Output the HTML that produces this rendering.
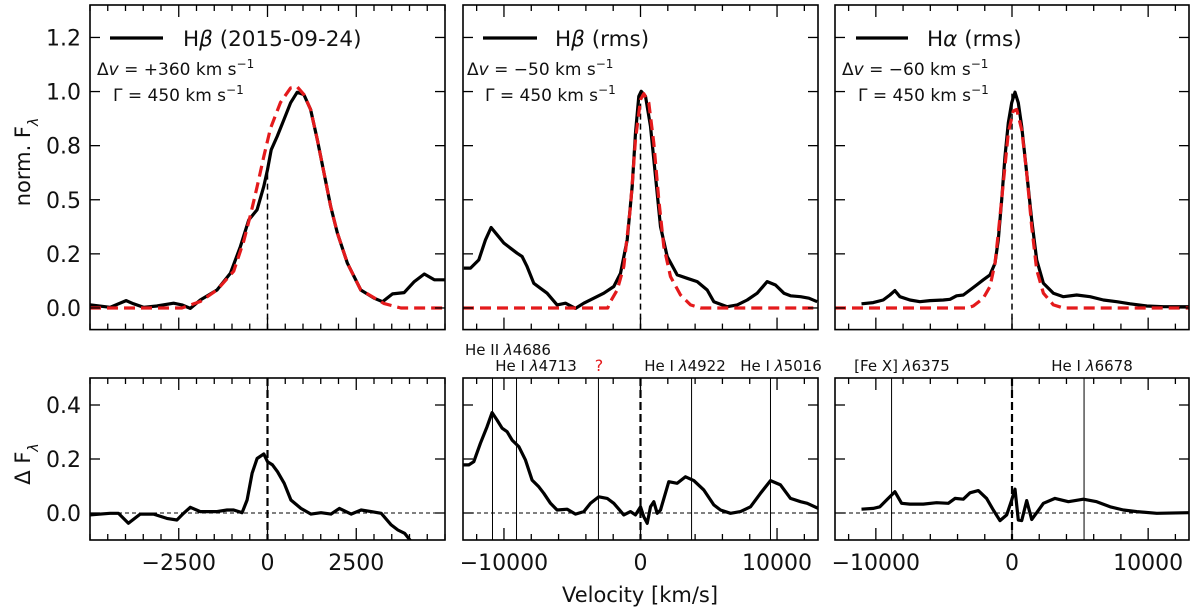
<!DOCTYPE html>
<html><head><meta charset="utf-8"><style>
html,body{margin:0;padding:0;background:#fff;}
svg{display:block;font-family:"DejaVu Sans","Liberation Sans",sans-serif;}
</style></head><body>
<svg id="fig" width="1200" height="613" viewBox="0 0 1200 613" xmlns="http://www.w3.org/2000/svg"></svg>
<script>
// ---------- data ----------
const hbDateV=[-5000,-4435,-3983,-3776,-3493,-3117,-2646,-2411,-2175,-1893,-1422,-1045,-763,-527,-292,-104,0,104,273,461,650,838,1026,1215,1403,1592,1780,1968,2251,2627,3004,3239,3522,3851,4134,4417,4699,5028];
const hbDateF=[0.014,0.003,0.034,0.019,0.003,0.009,0.022,0.014,-0.002,0.037,0.083,0.16,0.284,0.407,0.454,0.562,0.639,0.731,0.793,0.870,0.948,0.997,0.986,0.917,0.778,0.624,0.469,0.346,0.207,0.083,0.045,0.029,0.065,0.071,0.122,0.157,0.130,0.130];
const hbDateFitV=[-5000,-2411,-1893,-1422,-951,-669,-480,-292,-104,85,367,650,838,1026,1215,1403,1592,1780,1968,2251,2627,3286,3757,5000];
const hbDateFitF=[0,0,0.03,0.083,0.17,0.31,0.43,0.56,0.70,0.83,0.95,1.017,1.022,0.986,0.917,0.778,0.624,0.469,0.346,0.207,0.083,0.02,0,0];
const hbRmsV=[-12943,-12454,-11844,-11355,-10940,-10501,-10012,-9524,-9035,-8669,-8303,-7814,-7326,-6837,-6105,-5495,-4762,-4151,-3419,-2686,-1954,-1465,-977,-611,-366,-122,49,366,733,1099,1465,1954,2686,3419,4151,4884,5372,6349,7082,7814,8547,9280,9890,10501,10989,11722,12332,12943];
const hbRmsF=[0.184,0.184,0.222,0.315,0.372,0.338,0.3,0.276,0.253,0.238,0.191,0.114,0.091,0.068,0.014,0.022,-0.002,0.022,0.045,0.068,0.099,0.16,0.315,0.562,0.809,0.978,1.001,0.978,0.839,0.608,0.376,0.238,0.153,0.137,0.122,0.083,0.029,0.006,0.014,0.037,0.068,0.122,0.106,0.068,0.056,0.052,0.045,0.029];
const hbRmsFitV=[-13000,-2400,-2198,-1710,-1221,-733,-366,0,244,611,977,1343,1710,2198,2930,3663,4396,13000];
const hbRmsFitF=[0,0,0.03,0.083,0.191,0.469,0.778,0.963,0.99,0.948,0.762,0.5,0.284,0.145,0.06,0.014,0,0];
const haRmsV=[-11050,-10192,-9457,-8967,-8600,-8232,-7497,-6762,-6027,-5047,-4557,-4067,-3577,-3087,-2597,-2107,-1617,-1250,-1005,-760,-515,-270,-25,221,466,711,1078,1446,1813,2303,3038,3773,4753,5733,6713,7693,8673,9898,11123,12960];
const haRmsF=[0.019,0.025,0.037,0.06,0.080,0.052,0.037,0.029,0.034,0.037,0.040,0.056,0.06,0.083,0.106,0.13,0.153,0.207,0.315,0.5,0.701,0.855,0.948,0.997,0.948,0.839,0.624,0.407,0.222,0.114,0.068,0.052,0.06,0.052,0.037,0.029,0.019,0.009,0.006,0.006];
const haRmsFitV=[-13000,-3300,-2842,-2107,-1617,-1250,-1005,-637,-270,98,343,711,1078,1446,1813,2303,3038,3773,13000];
const haRmsFitF=[0,0,0.009,0.045,0.099,0.207,0.346,0.577,0.81,0.91,0.917,0.824,0.624,0.376,0.176,0.068,0.014,0,0];
const dHbDateV=[-5000,-4435,-4199,-3917,-3587,-3211,-2834,-2552,-2363,-2175,-1893,-1422,-1139,-951,-716,-575,-433,-292,-104,0,141,283,471,659,942,1224,1507,1789,2024,2354,2637,2919,3202,3484,3673,3861,4049];
const dHbDateF=[-0.007,-0.001,-0.001,-0.038,-0.004,-0.004,-0.02,-0.026,-0.001,0.021,0.005,0.005,0.011,0.011,0.001,0.048,0.147,0.202,0.219,0.19,0.178,0.153,0.110,0.048,0.017,-0.004,0.001,-0.004,0.017,-0.004,0.011,0.005,-0.001,-0.044,-0.063,-0.075,-0.106];
const dHbRmsV=[-12991,-12576,-12210,-11722,-11233,-10867,-10501,-10134,-9768,-9402,-8913,-8425,-7936,-7448,-7082,-6593,-6105,-5372,-4762,-4151,-3663,-3053,-2442,-1954,-1221,-733,-366,0,244,488,733,977,1221,1465,2075,2686,3297,3907,4640,5372,5861,6593,7326,8059,8791,9524,10257,10989,11722,12210,13017];
const dHbRmsF=[0.178,0.178,0.190,0.258,0.320,0.372,0.344,0.314,0.301,0.270,0.246,0.196,0.122,0.097,0.073,0.036,0.011,0.014,-0.004,0.005,0.036,0.060,0.054,0.036,-0.007,0.005,-0.007,0.023,-0.014,-0.038,0.023,0.042,-0.001,0.011,0.116,0.11,0.134,0.12,0.085,0.03,0.011,-0.001,0.005,0.023,0.073,0.120,0.104,0.054,0.042,0.036,0.017];
const dHaRmsV=[-11050,-10192,-9702,-9212,-8600,-8110,-7497,-6517,-5537,-4679,-4190,-3577,-3087,-2475,-1862,-1372,-882,-392,-25,221,466,711,1078,1446,1813,2303,3161,4140,5243,6223,7203,8183,9163,10633,12960];
const dHaRmsF=[0.014,0.017,0.023,0.048,0.079,0.036,0.033,0.033,0.038,0.036,0.054,0.051,0.075,0.083,0.054,0.011,-0.028,-0.007,0.048,0.088,-0.026,-0.028,0.046,-0.024,0.001,0.036,0.054,0.042,0.051,0.042,0.023,0.011,0.005,-0.001,0.001];
const zeroLineTop=[0.639,1.0,1.0];
const hbLineV=[-10840,-9080,-3080,3740,9520];
const haLineV=[-8845,5292];
const leftXTicks=[-2500,0,2500];
const wideXTicks=[-10000,0,10000];
const topYTicks=[0,0.25,0.5,0.75,1.0,1.25];
const topYLabels=["0.0","0.2","0.5","0.8","1.0","1.2"];
const botYTicks=[0,0.2,0.4];
const botYLabels=["0.0","0.2","0.4"];

// ---------- helpers ----------
const NS="http://www.w3.org/2000/svg";
const svg=document.getElementById('fig');
function mk(tag,attrs,parent){const e=document.createElementNS(NS,tag);for(const k in attrs)e.setAttribute(k,attrs[k]);(parent||svg).appendChild(e);return e;}
const defs=mk('defs',{});
const cols=[{x0:90,x1:445,vmin:-5000,vmax:5000,minor:500},{x0:463,x1:818,vmin:-13000,vmax:13000,minor:2000},{x0:835,x1:1189,vmin:-13000,vmax:13000,minor:2000}];
const rows=[{y0:5,y1:329.6,fmax:1.4,fmin:-0.1},{y0:378,y1:540,fmax:0.5,fmin:-0.1}];
function X(c,v){const C=cols[c];return C.x0+(v-C.vmin)/(C.vmax-C.vmin)*(C.x1-C.x0);}
function Y(r,f){const R=rows[r];return R.y0+(R.fmax-f)/(R.fmax-R.fmin)*(R.y1-R.y0);}
let clipN=0;
function panel(c,r,name){
  const g=mk('g',{});
  
  
  const id='clip'+(clipN++);
  const cp=mk('clipPath',{id:id},defs);
  mk('rect',{x:cols[c].x0,y:rows[r].y0,width:cols[c].x1-cols[c].x0,height:rows[r].y1-rows[r].y0},cp);
  const inner=mk('g',{'clip-path':'url(#'+id+')'},g);
  return {g,inner};
}
function curve(p,c,r,vs,fs,style,name){
  let d='';for(let i=0;i<vs.length;i++){d+=(i?'L':'M')+X(c,vs[i]).toFixed(1)+','+Y(r,fs[i]).toFixed(1);}
  const e=mk('path',Object.assign({d:d,fill:'none','stroke-linejoin':'round'},style),p.inner);
  
  
  return e;
}
function frame(p,c,r,xt,yt,ylabels,showX){
  const C=cols[c],R=rows[r];
  for(let v=Math.ceil(C.vmin/C.minor)*C.minor;v<=C.vmax;v+=C.minor){
    const major=xt.indexOf(v)>=0;const L=major?12:6;const x=X(c,v);
    mk('line',{x1:x,x2:x,y1:R.y1,y2:R.y1-L,stroke:'#000','stroke-width':1.3},p.g);
    mk('line',{x1:x,x2:x,y1:R.y0,y2:R.y0+L,stroke:'#000','stroke-width':1.3},p.g);
  }
  yt.forEach((f,i)=>{const y=Y(r,f);
    mk('line',{x1:C.x0,x2:C.x0+10,y1:y,y2:y,stroke:'#000','stroke-width':1.3},p.g);
    mk('line',{x1:C.x1,x2:C.x1-10,y1:y,y2:y,stroke:'#000','stroke-width':1.3},p.g);
    if(ylabels){const t=mk('text',{x:C.x0-9,y:y+8,'text-anchor':'end','font-size':22,fill:'#111'},p.g);t.textContent=ylabels[i];
      
      }
  });
  if(showX){xt.forEach(v=>{const t=mk('text',{x:X(c,v),y:570,'text-anchor':'middle','font-size':22,fill:'#111'},p.g);t.textContent=(v<0?'\u2212':'')+Math.abs(v);
      
      });}
  const b=mk('rect',{x:C.x0,y:R.y0,width:C.x1-C.x0,height:R.y1-R.y0,fill:'none',stroke:'#000','stroke-width':1.6},p.g);
  
  
}
function txt(x,y,size,html,name,anchor,color){
  const t=mk('text',{x:x,y:y,'font-size':size,fill:color||'#111','text-anchor':anchor||'start'});
  t.innerHTML=html;
  
  
  return t;
}
const blk={stroke:'#000','stroke-width':3.2};
const red={stroke:'#e41a1c','stroke-width':3.2,'stroke-dasharray':'11,6'};

// ---------- top panels ----------
const topSets=[[hbDateV,hbDateF,hbDateFitV,hbDateFitF],[hbRmsV,hbRmsF,hbRmsFitV,hbRmsFitF],[haRmsV,haRmsF,haRmsFitV,haRmsFitF]];
const topNames=['hbeta-epoch-panel','hbeta-rms-panel','halpha-rms-panel'];
topSets.forEach((s,c)=>{
  const p=panel(c,0,topNames[c]);
  const zl=mk('line',{x1:X(c,0),x2:X(c,0),y1:Y(0,-0.1),y2:Y(0,zeroLineTop[c]),stroke:'#000','stroke-width':1.5,'stroke-dasharray':'6,4'},p.inner);
  
  
  curve(p,c,0,s[0],s[1],blk,'observed-profile');
  curve(p,c,0,s[2],s[3],red,'model-fit');
  frame(p,c,0,c===0?leftXTicks:wideXTicks,topYTicks,c===0?topYLabels:null,false);
});
// ---------- bottom panels ----------
const botSets=[[dHbDateV,dHbDateF,[]],[dHbRmsV,dHbRmsF,hbLineV],[dHaRmsV,dHaRmsF,haLineV]];
const botNames=['hbeta-epoch-residual-panel','hbeta-rms-residual-panel','halpha-rms-residual-panel'];
botSets.forEach((s,c)=>{
  const p=panel(c,1,botNames[c]);
  s[2].forEach(v=>{const l=mk('line',{x1:X(c,v),x2:X(c,v),y1:rows[1].y0,y2:rows[1].y1,stroke:'#000','stroke-width':1},p.inner);
    
    });
  const h=mk('line',{x1:cols[c].x0,x2:cols[c].x1,y1:Y(1,0),y2:Y(1,0),stroke:'#000','stroke-width':1,'stroke-dasharray':'4,3'},p.inner);
  
  
  const z=mk('line',{x1:X(c,0),x2:X(c,0),y1:rows[1].y0,y2:rows[1].y1,stroke:'#000','stroke-width':2.2,'stroke-dasharray':'8,4'},p.inner);
  
  
  curve(p,c,1,s[0],s[1],blk,'residual-profile');
  frame(p,c,1,c===0?leftXTicks:wideXTicks,botYTicks,c===0?botYLabels:null,true);
});

// ---------- legends & annotations ----------
const legX=[[110,163,183],[483,537,555],[856,908,927]];
const legT=['H<tspan font-style="italic">β</tspan> (2015-09-24)','H<tspan font-style="italic">β</tspan> (rms)','H<tspan font-style="italic">α</tspan> (rms)'];
const dvT=['+360','\u221250','\u221260'];
const annX=[[97,113],[467,485],[842,858]];
legX.forEach((l,i)=>{
  const ln=mk('line',{x1:l[0],x2:l[1],y1:38,y2:38,stroke:'#000','stroke-width':3.2});
  
  
  txt(l[2],46,21.5,legT[i],'legend-label');
  txt(annX[i][0],75,17,'Δ<tspan font-style="italic">v</tspan> = '+dvT[i]+' km s<tspan baseline-shift="super" font-size="12">−1</tspan>','velocity-shift-annotation');
  txt(annX[i][1],101,17,'Γ = 450 km s<tspan baseline-shift="super" font-size="12">−1</tspan>','width-annotation');
});
// line ID labels
txt(508,355,15,'He II <tspan font-style="italic">λ</tspan>4686','heii-4686-label','middle');
txt(536,371,15,'He I <tspan font-style="italic">λ</tspan>4713','hei-4713-label','middle');
txt(599,371,16,'?','unknown-line-label','middle','#e41a1c');
txt(685,371,15,'He I <tspan font-style="italic">λ</tspan>4922','hei-4922-label','middle');
txt(781,371,15,'He I <tspan font-style="italic">λ</tspan>5016','hei-5016-label','middle');
txt(902,371,15,'[Fe X] <tspan font-style="italic">λ</tspan>6375','fex-6375-label','middle');
txt(1092,371,15,'He I <tspan font-style="italic">λ</tspan>6678','hei-6678-label','middle');
// axis titles
const yt1=txt(0,0,21,'norm. F<tspan baseline-shift="sub" font-size="14" font-style="italic">λ</tspan>','y-axis-title-top','middle');
yt1.setAttribute('transform','translate(30,162) rotate(-90)');
const yt2=txt(0,0,21,'Δ F<tspan baseline-shift="sub" font-size="14" font-style="italic">λ</tspan>','y-axis-title-bottom','middle');
yt2.setAttribute('transform','translate(30,464) rotate(-90)');
txt(640,602,21,'Velocity [km/s]','x-axis-title','middle');
</script>
</body></html>
